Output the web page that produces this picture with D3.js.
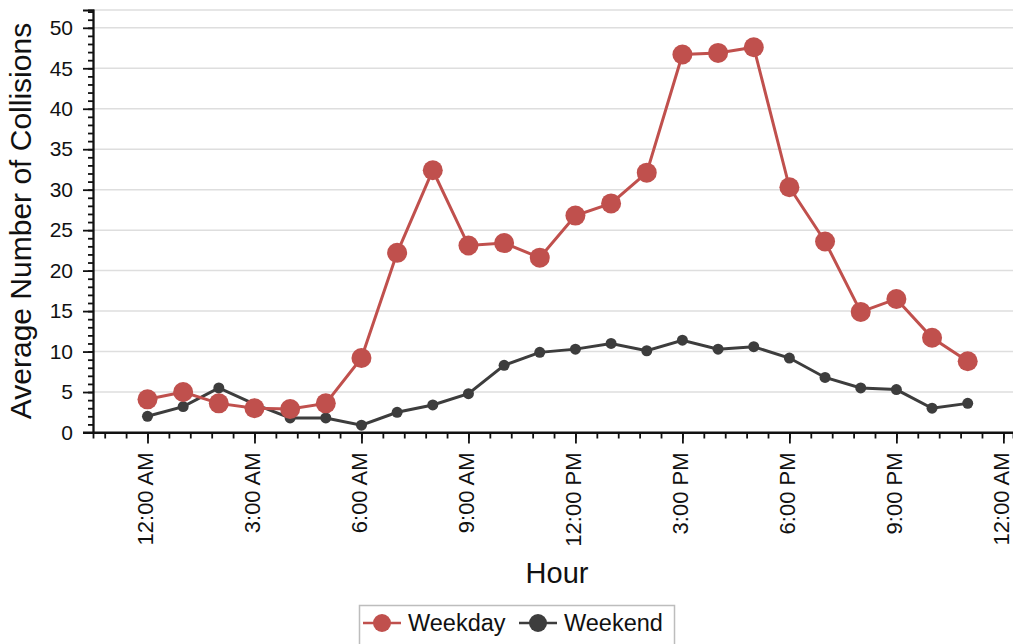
<!DOCTYPE html>
<html>
<head>
<meta charset="utf-8">
<script src="https://cdn.jsdelivr.net/npm/d3@7"></script>
<style>
  body { margin: 0; background: #fff; }
  svg { font-family: "Liberation Sans", Arial, sans-serif; }
</style>
</head>
<body>
<div id="chart"></div>
<script>
// hours of the day (0 = midnight)
const hours = d3.range(0, 24);
const weekday = [4.1, 5.0, 3.6, 3.0, 2.9, 3.6, 9.2, 22.2, 32.4, 23.1, 23.4, 21.6,
                 26.8, 28.3, 32.1, 46.7, 46.9, 47.6, 30.3, 23.6, 14.9, 16.5, 11.7, 8.8];
const weekend = [2.0, 3.2, 5.5, 3.5, 1.8, 1.8, 0.9, 2.5, 3.4, 4.8, 8.3, 9.9,
                 10.3, 11.0, 10.1, 11.4, 10.3, 10.6, 9.2, 6.8, 5.5, 5.3, 3.0, 3.6];
const xTicks = [0, 3, 6, 9, 12, 15, 18, 21, 24];
const yTicks = [0, 5, 10, 15, 20, 25, 30, 35, 40, 45, 50];

const series = [
  {name: "Weekday", values: weekday, color: "#c0504d", r: 10},
  {name: "Weekend", values: weekend, color: "#3d3d3d", r: 5.5}
];

const width = 1013, height = 644;
const svg = d3.select("#chart").append("svg")
  .attr("width", width)
  .attr("height", height);

const x = d3.scaleLinear().domain([-1.528, 24.27]).range([93, 1013]);
const y = d3.scaleLinear().domain([0, 52.2]).range([432.5, 10]);

function hourLabel(h) {
  const hh = h % 24;
  const ap = hh < 12 ? "AM" : "PM";
  const d = hh % 12 === 0 ? 12 : hh % 12;
  return d + ":00 " + ap;
}

// grid
svg.append("g").selectAll("line")
  .data(yTicks.slice(1).concat([52.2]))
  .enter().append("line")
  .attr("x1", 93).attr("x2", width)
  .attr("y1", d => y(d)).attr("y2", d => y(d))
  .attr("stroke", "#dedede")
  .attr("stroke-width", 1.5);

// y axis
const yAxis = svg.append("g")
  .attr("transform", "translate(93,0)")
  .call(d3.axisLeft(y).tickValues(yTicks).tickSize(10).tickPadding(10));
yAxis.append("g").call(d3.axisLeft(y).tickValues(d3.range(0, 53)).tickSize(5).tickFormat(""));

// x axis
const xAxis = svg.append("g")
  .attr("transform", "translate(0,432.5)")
  .call(d3.axisBottom(x).tickValues(xTicks).tickSize(11).tickFormat(hourLabel));
xAxis.append("g").call(d3.axisBottom(x).tickValues(d3.range(-2, 41).map(i => i * 0.6).filter(v => v > -1.528 && v < 24.27)).tickSize(6).tickFormat(""));
xAxis.selectAll(".tick text")
  .attr("transform", "rotate(-90)")
  .attr("text-anchor", "end")
  .attr("x", -20)
  .attr("y", 0)
  .attr("dy", "0.22em");

svg.selectAll(".domain, .tick line").attr("stroke", "#111").attr("stroke-width", 1.8);
yAxis.selectAll(".tick text").attr("font-size", 21).attr("fill", "#111");
xAxis.selectAll(".tick text").attr("font-size", 22).attr("fill", "#111");
xAxis.select(".domain").attr("d", "M83,0H" + width);

// lines and markers
const line = d3.line().x((d, i) => x(hours[i])).y(d => y(d));
series.slice().reverse().forEach(s => {
  svg.append("path")
    .datum(s.values)
    .attr("fill", "none")
    .attr("stroke", s.color)
    .attr("stroke-width", 3)
    .attr("d", line);
  svg.append("g").selectAll("circle")
    .data(s.values)
    .enter().append("circle")
    .attr("cx", (d, i) => x(hours[i]))
    .attr("cy", d => y(d))
    .attr("r", s.r)
    .attr("fill", s.color);
});

// axis titles
svg.append("text")
  .attr("transform", "translate(31,221) rotate(-90)")
  .attr("text-anchor", "middle")
  .attr("font-size", 30)
  .attr("fill", "#111")
  .text("Average Number of Collisions");

svg.append("text")
  .attr("x", 557).attr("y", 583)
  .attr("text-anchor", "middle")
  .attr("font-size", 29)
  .attr("fill", "#111")
  .text("Hour");

// legend
const legend = svg.append("g");
legend.append("rect")
  .attr("x", 359.5).attr("y", 605.5)
  .attr("width", 315).attr("height", 60)
  .attr("fill", "#fff")
  .attr("stroke", "#bdbdbd")
  .attr("stroke-width", 1.5);
const lx = [363, 519];
series.forEach((s, i) => {
  const g = legend.append("g").attr("transform", `translate(${lx[i]},623)`);
  g.append("line").attr("x1", 0).attr("x2", 38)
    .attr("stroke", s.color).attr("stroke-width", 2.5);
  g.append("circle").attr("cx", 19).attr("r", 9).attr("fill", s.color);
  g.append("text").attr("x", 45).attr("y", 8)
    .attr("font-size", 23.5).attr("fill", "#111")
    .text(s.name);
});
</script>
</body>
</html>
